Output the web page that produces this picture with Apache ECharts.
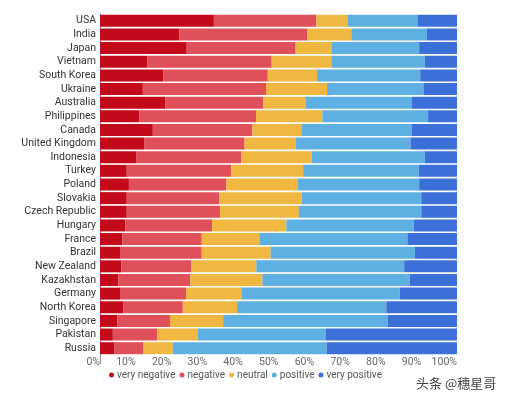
<!DOCTYPE html>
<html><head><meta charset="utf-8">
<script src="https://cdn.jsdelivr.net/npm/echarts@6/dist/echarts.min.js"></script>
<style>html,body{margin:0;padding:0;background:#fff}#c{width:507px;height:401px}</style>
</head><body><div id="c"></div>
<script>
const categories = ["USA","India","Japan","Vietnam","South Korea","Ukraine","Australia","Philippines","Canada","United Kingdom","Indonesia","Turkey","Poland","Slovakia","Czech Republic","Hungary","France","Brazil","New Zealand","Kazakhstan","Germany","North Korea","Singapore","Pakistan","Russia"];
const veryNegative = [31.9,22.2,24.3,13.2,17.8,12.0,18.3,11.1,14.8,12.5,10.1,7.5,8.1,7.5,7.5,7.1,6.3,5.6,6.0,5.1,5.6,6.6,4.9,3.6,4.1];
const negative     = [28.7,35.9,30.5,34.9,29.2,34.5,27.4,32.6,27.9,28.0,29.5,29.3,27.3,25.9,26.1,24.3,22.2,22.9,19.5,20.2,18.5,16.6,14.7,12.4,8.1];
const neutral      = [8.7,12.3,10.0,16.7,13.8,17.1,12.0,18.6,13.7,14.4,19.7,20.1,19.9,23.1,22.1,20.8,16.1,19.3,18.3,20.2,15.5,15.2,14.9,11.3,8.2];
const positive     = [19.6,21.2,24.6,26.2,28.9,27.0,29.7,29.6,31.0,32.1,31.7,32.4,34.1,33.5,34.3,35.7,41.5,40.4,41.4,41.2,44.4,41.8,46.1,36.0,43.1];
const veryPositive = [11.1,8.4,10.6,9.0,10.3,9.4,12.6,8.1,12.6,13.0,9.0,10.7,10.6,10.0,10.0,12.1,13.9,11.8,14.8,13.3,16.0,19.8,19.4,36.7,36.5];
const seriesNames = ["very negative","negative","neutral","positive","very positive"];
const colors = ["#c20a1b","#df505b","#f0b840","#5eb0e2","#3c70d8"];

const all = [veryNegative,negative,neutral,positive,veryPositive];
const chart = echarts.init(document.getElementById('c'));
chart.setOption({
  animation:false,
  color: colors,
  grid:{left:100,right:50,top:14,bottom:46,containLabel:false},
  legend:{
    data:seriesNames, bottom:16, left:104, icon:'circle', itemWidth:5, itemHeight:5, itemGap:4,
    textStyle:{fontFamily:'Roboto',fontSize:10,color:'#555',padding:[0,0,0,-2]}
  },
  xAxis:{
    type:'value', min:0, max:100, interval:10,
    axisLabel:{formatter:v=>v+'%', align:'right', fontFamily:'Roboto', fontSize:10.5, color:'#666', margin:2},
    splitLine:{show:false}, axisLine:{show:false}, axisTick:{show:false}
  },
  yAxis:{
    type:'category', data:categories, inverse:true,
    axisLine:{show:true,lineStyle:{color:'#888'}}, axisTick:{show:false},
    axisLabel:{interval:0, fontFamily:'Roboto',fontSize:10.5,color:'#333',margin:4}
  },
  series: seriesNames.map((n,i)=>({
    name:n, type:'bar', stack:'total', data:all[i], barCategoryGap:'12%',
    itemStyle:{color:colors[i]}
  })),
  graphic:[
    {type:'line', shape:{x1:100.5,y1:355,x2:100.5,y2:364}, style:{stroke:'#888',lineWidth:1}},
    {type:'text', left:415, top:376, style:{text:'头条 @穗星哥', font:'13px "Noto Sans CJK SC"', fill:'#444', stroke:'#fff', lineWidth:2}}
  ]
});
</script></body></html>
